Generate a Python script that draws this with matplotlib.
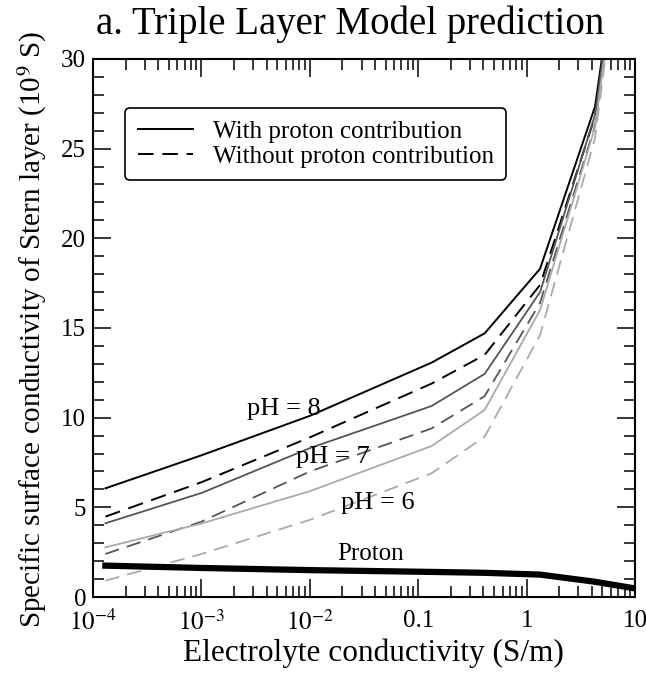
import matplotlib
matplotlib.use("Agg")
import matplotlib.pyplot as plt
from matplotlib.ticker import LogLocator, MultipleLocator, NullFormatter

plt.rcParams['font.family'] = ['Liberation Serif', 'DejaVu Serif']
plt.rcParams['mathtext.fontset'] = 'stix'

# electrolyte conductivity (S/m)
cond = [1.3e-4, 1e-3, 1e-2, 0.133, 0.41, 1.33, 4.28, 10]

# specific surface conductivity (1e-9 S), with / without proton contribution
ph8_with = [6.06, 7.9, 10.1, 13.07, 14.7, 18.3, 27.35, 43]
ph8_without = [4.48, 6.4, 8.9, 11.9, 13.5, 17.4, 26.8, 43]
ph7_with = [4.11, 5.8, 8.3, 10.65, 12.44, 17.0, 26.9, 43]
ph7_without = [2.40, 4.2, 7.0, 9.4, 11.2, 16.4, 26.3, 43]
ph6_with = [2.77, 4.1, 5.9, 8.42, 10.43, 16.0, 26.2, 43]
ph6_without = [0.91, 2.4, 4.3, 6.9, 8.94, 14.6, 25.6, 43]
proton = [1.75, 1.62, 1.5, 1.4, 1.35, 1.25, 0.85, 0.48]

xticks = [1e-4, 1e-3, 1e-2, 0.1, 1, 10]
xticklabels = ['$10^{-4}$', '$10^{-3}$', '$10^{-2}$', '0.1', '1', '10']

fig = plt.figure(figsize=(6.46, 6.82), dpi=100)
ax = fig.add_axes([0.144, 0.1246, 0.839, 0.789])

dash = (0, (8, 4.5))
ax.plot(cond, ph8_with, color='black', lw=1.4, label='With proton contribution')
ax.plot(cond, ph8_without, color='black', lw=1.4, ls=dash, label='Without proton contribution')
ax.plot(cond, ph7_with, color='#555555', lw=1.3)
ax.plot(cond, ph7_without, color='#555555', lw=1.3, ls=dash)
ax.plot(cond, ph6_with, color='#aaaaaa', lw=1.3)
ax.plot(cond, ph6_without, color='#aaaaaa', lw=1.3, ls=dash)
ax.plot(cond, proton, color='black', lw=4.5)

ax.set_xscale('log')
ax.set_xlim(1e-4, 10)
ax.set_ylim(0, 30)
ax.set_xticks(xticks)
ax.set_xticklabels(xticklabels)
ax.xaxis.set_minor_locator(LogLocator(base=10, subs=range(2, 10)))
ax.xaxis.set_minor_formatter(NullFormatter())
ax.yaxis.set_major_locator(MultipleLocator(5))
ax.yaxis.set_minor_locator(MultipleLocator(1))

ax.tick_params(which='both', direction='in', top=True, right=True, width=1.1, labelsize=18)
ax.tick_params(which='major', length=13, pad=5)
ax.tick_params(axis='x', which='major', pad=9)
ax.tick_params(which='minor', length=8)
for s in ax.spines.values():
    s.set_linewidth(1.5)

ax.text(5.8e-3, 10.5, 'pH = 8', fontsize=19, ha='center', va='center')
ax.text(0.0164, 7.8, 'pH = 7', fontsize=19, ha='center', va='center')
ax.text(0.0426, 5.24, 'pH = 6', fontsize=19, ha='center', va='center')
ax.text(0.036, 2.4, 'Proton', fontsize=18, ha='center', va='center')

leg = ax.legend(loc='upper left', bbox_to_anchor=(0.059, 0.909), fontsize=18,
                handlelength=2.2, frameon=True, fancybox=True, framealpha=1,
                edgecolor='black', borderpad=0.5, labelspacing=0.1,
                borderaxespad=0, handletextpad=0.8)
leg.get_frame().set_linewidth(1.2)

ax.set_xlabel('Electrolyte conductivity (S/m)', fontsize=22.5)
ax.xaxis.set_label_coords(0.517, -0.078)
ax.set_ylabel('Specific surface conductivity of Stern layer (10$^9$ S)', fontsize=21)
ax.yaxis.set_label_coords(-0.082, 0.497)
fig.text(0.542, 0.965, 'a. Triple Layer Model prediction', fontsize=28, ha='center', va='center')

fig.savefig('out.png', dpi=100)
